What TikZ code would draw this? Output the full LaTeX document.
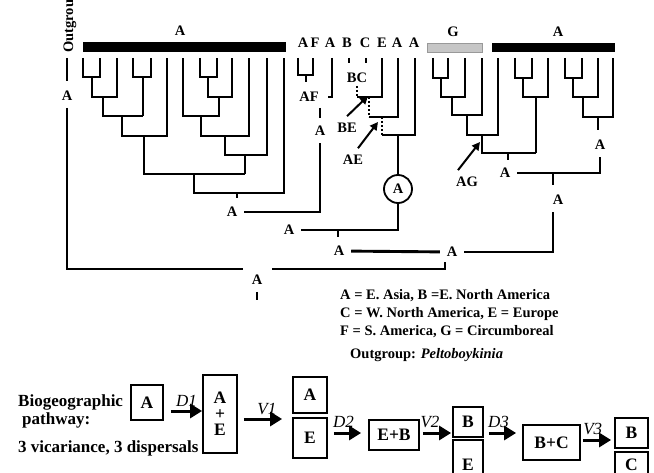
\documentclass[tikz,border=0pt]{standalone}
\usepackage{fontspec}
\setmainfont{Liberation Serif}
\usetikzlibrary{arrows.meta,positioning}

\begin{document}
\begin{tikzpicture}[x=1pt,y=-1pt,
  font=\fontsize{14.5}{16}\selectfont\bfseries,
  br/.style={line width=2.9pt},
  dots/.style={line width=2.2pt,dash pattern=on 2pt off 2pt},
  tl/.style={inner sep=0pt,outer sep=7pt},
  pointer/.style={-{Triangle[length=8pt,width=8pt]},line width=2pt},
  box/.style={draw,line width=1.8pt,inner sep=0pt,align=center,
              font=\fontsize{17.5}{16}\selectfont\bfseries},
  cut/.style={line width=1.8pt},
  go/.style={-{Triangle[length=12pt,width=14pt]},line width=3pt},
  ev/.style={font=\fontsize{17}{19}\selectfont\itshape,inner sep=1pt},
  big/.style={font=\fontsize{17}{19}\selectfont\bfseries,inner sep=0pt,anchor=west},
  key/.style={inner sep=0pt,anchor=west},
]
\useasboundingbox (0,0) rectangle (654,473);
\clip (0,0) rectangle (654,473);

% bars and tip areas
\fill (83,42) rectangle (286,52);
\fill (492,43) rectangle (615,52);
\filldraw[fill=gray!45,draw=gray!80,line width=.6pt] (427,43) rectangle (482,52);
\node[tl] (tA1) at (180,31) {A};
\node[tl] (tG) at (453,32) {G};
\node[tl] (tA2) at (558,32) {A};
\foreach \x/\t in {303/A,315/F,330/A,347/B,365/C,382/E,397/A,414/A}
  \node[inner sep=0pt] (tip\x) at (\x,43) {\t};
\node[rotate=90,anchor=base west,inner sep=0pt] (ogname) at (73,53) {Outgroup};

% left clade
\draw[br] (83,58) |- (100,77) -- (100,58)
  (92,77) |- (117,97) -- (117,58)
  (103,97) |- (143,116)
  (133,58) |- (151,77) -- (151,58)
  (143,77) -- (143,116)
  (122,116) |- (167,136) -- (167,58)
  (144,136) |- (245,174);
\draw[br] (200,58) |- (217,77) -- (217,58)
  (208,77) |- (232,97) -- (232,58)
  (219,97) |- (183,116) -- (183,58)
  (201,116) |- (249,136) -- (249,58)
  (225,136) |- (267,155) -- (267,58)
  (245,155) -- (245,174)
  (194,174) |- (284,193) -- (284,58)
  (237,193) -- (237,198);

% outgroup and root
\node[tl] (og) at (67,96) {A};
\draw[br] (67,58) -- (67,81);
\draw[br] (og) |- (243,269);
\node[tl] (root) at (257,280) {A};
\draw[br] (272,269) -| (445,262);
\draw[br] (root) -- (257,300);

% A F A
\draw[br] (298,58) |- (313,75) -- (313,58) (306,75) -- (306,82);
\node[tl] (nAF) at (309,97) {AF};
\draw[br] (320,108) -- (320,118);
\node[tl] (nAFA) at (320,131) {A};
\draw[br] (332,58) |- (328,97);
\node[tl] (nL) at (232,212) {A};
\draw[br] (nL) -| (nAFA);

% B C E A A
\draw[br] (349,58) -- (349,63) (366,58) -- (366,63);
\node[tl] (nBC) at (357,78) {BC};
\draw[dots] (357,86) -- (357,97);
\draw[br] (357,97) -| (382,58);
\draw[dots] (369,97) -- (369,117);
\draw[br] (369,117) -| (398,58);
\draw[dots] (382,117) -- (382,135);
\draw[br] (382,135) -| (415,58);
\node[circle,draw,line width=1.8pt,minimum size=28pt,inner sep=0pt] (circ) at (398,189) {A};
\draw[br] (398,135) -- (circ);
\node[tl] (nE) at (289,230) {A};
\draw[br] (circ) |- (nE);
\draw[br] (338,230) -- (338,237);
\node[tl] (nM) at (339,251) {A};
\node[tl] (nJ) at (452,252) {A};
\draw[br] (nM) -- (nJ);
\draw[br] (nJ) -- (553,252) -- (553,212);
\node[tl] (nR1) at (558,200) {A};
\draw[br] (553,173) -- (553,185);

\node[tl] (nBE) at (347,128) {BE};
\node[tl] (nAE) at (353,160) {AE};
\node[tl] (nAG) at (467,182) {AG};
\draw[pointer] (nBE.north) -- (368,96);
\draw[pointer] ([xshift=5pt]nAE.north) -- (378,122);
\draw[pointer] ([xshift=-9pt]nAG.north) -- (480,142);

% right clade
\draw[br] (433,58) |- (448,78) -- (448,58)
  (441,78) |- (465,97) -- (465,58)
  (452,97) |- (482,115) -- (482,58)
  (467,115) |- (498,135) -- (498,58)
  (482,135) |- (536,153)
  (515,58) |- (532,78) -- (532,58)
  (523,78) |- (548,97) -- (548,58)
  (536,97) -- (536,153)
  (508,153) -- (508,160)
  (565,58) |- (582,78) -- (582,58)
  (573,78) |- (598,97) -- (598,58)
  (583,97) |- (613,117) -- (613,58)
  (598,117) -- (598,130);
\node[tl] (nR3) at (600,145) {A};
\node[tl] (nR2) at (505,173) {A};
\draw[br] (nR2) -| (nR3);

% key
\node[key] (k1) at (340,296) {A = E. Asia, B =E. North America};
\node[key] (k2) at (340,314) {C = W. North America, E = Europe};
\node[key] (k3) at (340,332) {F = S. America, G = Circumboreal};
\node[key] (k4) at (350,355) {Outgroup: \textit{Peltoboykinia}};

% pathway
\node[big] (p1) at (18,402) {Biogeographic};
\node[big] (p2) at (22,420) {pathway:};
\node[big] (p3) at (18,448) {3 vicariance, 3 dispersals};

\node[box,minimum width=32pt,minimum height=35pt] (bA) at (147,402.5) {A};
\node[box,minimum width=34pt,minimum height=78pt] (bAE) at (220,414) {A\\+\\E};
\node[box,minimum width=34pt,minimum height=36pt] (bA1) at (310,395) {A};
\node[box,minimum width=34pt,minimum height=40pt] (bE1) at (310,438) {E};
\node[box,minimum width=50pt,minimum height=30pt] (bEB) at (394,435) {E+B};
\node[box,minimum width=30pt,minimum height=30pt] (bB2) at (468,422) {B};
\node[box,minimum width=57pt,minimum height=35pt] (bBC) at (551.5,442.5) {B+C};
\node[box,minimum width=33pt,minimum height=30pt] (bB3) at (631.5,433) {B};
% boxes running off the bottom edge
\draw[cut] (453,480) |- (483,440) -- (483,480);
\node[inner sep=0pt,font=\fontsize{17.5}{16}\selectfont\bfseries] (bE2) at (468,465) {E};
\draw[cut] (615,480) |- (648,452) -- (648,480);
\node[inner sep=0pt,font=\fontsize{17.5}{16}\selectfont\bfseries] (bC3) at (631.5,465) {C};

\draw[go] ([shift={(7,8.5)}]bA.east) -- node[ev,above=2pt]{D1} ([shift={(0,-3)}]bAE.west);
\draw[go] ([shift={(6,5)}]bAE.east) -- node[ev,above=2pt,pos=.6]{V1} ([shift={(-10,-19)}]bE1.west);
\draw[go] ([shift={(6,-5)}]bE1.east) -- node[ev,above=3pt,pos=.35]{D2} ([shift={(-7,-2)}]bEB.west);
\draw[go] ([shift={(3,-2)}]bEB.east) -- node[ev,above=3pt,pos=.25]{V2} ([shift={(-1,11)}]bB2.west);
\draw[go] ([shift={(5,11)}]bB2.east) -- node[ev,above=3pt,pos=.35]{D3} ([shift={(-6,-9.5)}]bBC.west);
\draw[go] ([shift={(2,-2.5)}]bBC.east) -- node[ev,above=3pt,pos=.35]{V3} ([shift={(-3,7)}]bB3.west);
\end{tikzpicture}
\end{document}
